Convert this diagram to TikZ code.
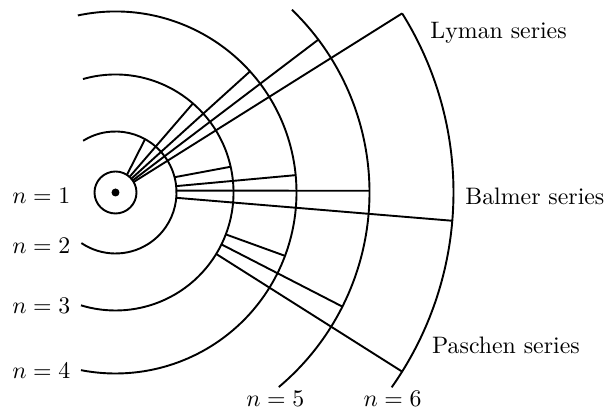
\documentclass[tikz,border=0pt]{standalone}
\usepackage{tikz}
\usetikzlibrary{positioning, calc}

\begin{document}
\begin{tikzpicture}[
    x=0.42pt, y=0.42pt,
    orbit/.style={line width=0.8pt, black},
    jump/.style={line width=0.8pt, black},
    level/.style={inner sep=0pt, font=\normalsize},
    series/.style={inner sep=0pt, anchor=base west, font=\normalsize}
]
    \useasboundingbox (-115.5,-218.5) rectangle (497.5,192.5);

    % Núcleo e órbitas
    \fill (0,0) circle (4);
    \draw[orbit] (0,0) circle (21);
    \draw[orbit] (122:61) arc[start angle=122, end angle=-124, radius=61];
    \draw[orbit] (106:118) arc[start angle=106, end angle=-107, radius=118];
    \draw[orbit] (102:181) arc[start angle=102, end angle=-101, radius=181];
    \draw[orbit] (46:254) arc[start angle=46, end angle=-50, radius=254];
    \draw[orbit] (32:338) arc[start angle=32, end angle=-35.2, radius=338];

    % Transições
    \foreach \rr/\aa/\bb in {61/57/61, 118/48/49, 181/41/42, 254/35/37, 338/30/32}
        \draw[jump] (\aa:21) -- (\bb:\rr);
    \foreach \rr/\aa/\bb in {118/14.5/12.6, 181/6/5.5, 254/1.7/0.4, 338/-5/-4.8}
        \draw[jump] (\aa:61) -- (\bb:\rr);
    \foreach \rr/\aa/\bb in {181/-20.8/-20.5, 254/-26.1/-26.7, 338/-31.4/-32}
        \draw[jump] (\aa:118) -- (\bb:\rr);

    % Rótulos
    \node[level, anchor=base east] (n1) at (-44.8,-11.5) {$n=1$};
    \node[level, anchor=base east] (n2) at (-44.8,-60.8) {$n=2$};
    \node[level, anchor=base east] (n3) at (-44.8,-120.8) {$n=3$};
    \node[level, anchor=base east] (n4) at (-44.8,-185.8) {$n=4$};
    \node[level, anchor=base] (n5) at (159.8,-214.2) {$n=5$};
    \node[level, anchor=base] (n6) at (277,-214.2) {$n=6$};

    \node[series] (lyman) at (314.5,154.2) {Lyman series};
    \node[series] (balmer) at (349.5,-12.5) {Balmer series};
    \node[series] (paschen) at (316.2,-160.8) {Paschen series};
\end{tikzpicture}
\end{document}
